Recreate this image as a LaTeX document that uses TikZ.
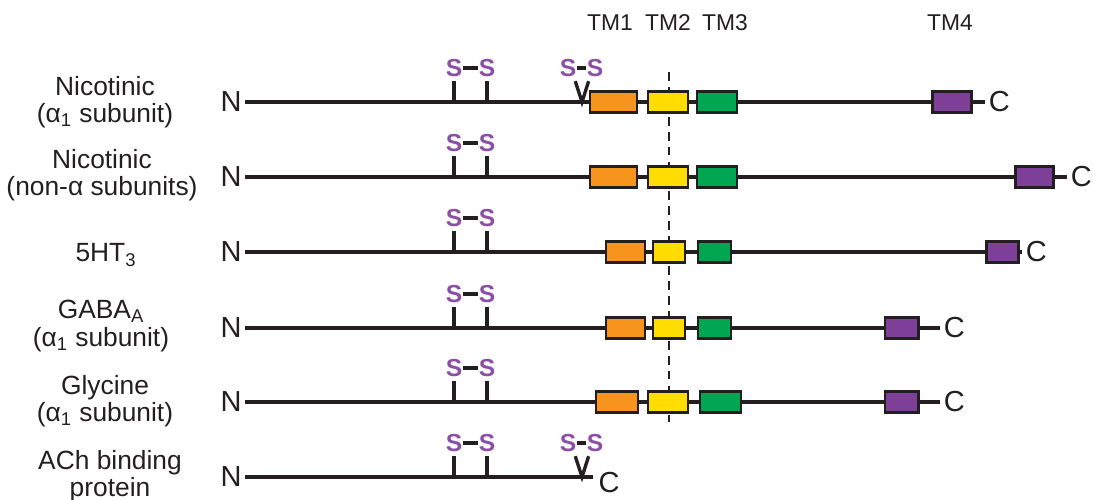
\documentclass[tikz,border=0pt]{standalone}
\usepackage{fontspec}
\setmainfont{Liberation Sans}
\usetikzlibrary{fit,backgrounds}
\definecolor{rink}{HTML}{231F20}
\definecolor{rorange}{HTML}{F7941D}
\definecolor{ryellow}{HTML}{FFDD00}
\definecolor{rgreen}{HTML}{00A651}
\definecolor{rpurple}{HTML}{7E3F98}
\definecolor{rsulf}{HTML}{8C4FA6}
\tikzset{
  tmseg/.style={draw=rink,fill=#1,line width=1.7pt,inner sep=0pt},
  backbone/.style={draw=rink,line width=2.8pt},
  endlab/.style={font=\fontsize{16.5}{18}\selectfont,text=rink,inner sep=2pt},
  sulf/.style={font=\fontsize{14}{16}\selectfont\bfseries,text=rsulf,inner sep=0pt},
  bond/.style={draw=rink,line width=2pt},
  sstem/.style={draw=rink,line width=1.9pt,shorten <=2.5pt},
  rowlab/.style={font=\fontsize{15}{15.5}\selectfont,text=rink,align=center},
  tmlab/.style={font=\fontsize{13}{15}\selectfont,text=rink},
  midline/.style={draw=rink,line width=1.5pt,dash pattern=on 5pt off 3.5pt},
}
\begin{document}
\begin{tikzpicture}[x=0.02cm,y=-0.02cm]
  \useasboundingbox (0,0) rectangle (1093,500);
  \node[tmlab] (tm1) at (610,23) {TM1};
  \node[tmlab] (tm2) at (668,23) {TM2};
  \node[tmlab] (tm3) at (725,23) {TM3};
  \node[tmlab] (tm4) at (950,23) {TM4};
  \coordinate (mtop) at (669,72);
  \coordinate (mbot) at (669,422);

  \node[rowlab] (l1) at (105,102) {Nicotinic\\(α\textsubscript{1} subunit)};
  \node[rowlab] (l2) at (102,175) {Nicotinic\\(non-α subunits)};
  \node[rowlab] (l3) at (106,255) {5HT\textsubscript{3}};
  \node[rowlab] (l4) at (101,326) {GABA\textsubscript{A}\\(α\textsubscript{1} subunit)};
  \node[rowlab] (l5) at (105,401) {Glycine\\(α\textsubscript{1} subunit)};
  \node[rowlab] (l6) at (110,476) {ACh binding\\protein};

  \node[endlab] (n1) at (231,102) {N};
  \node[tmseg=rorange,fit={(590,91.5)(637,112.5)}] (a1) {};
  \node[tmseg=ryellow,fit={(648,91.5)(688,112.5)}] (b1) {};
  \node[tmseg=rgreen,fit={(697,91.5)(737,112.5)}] (g1) {};
  \node[tmseg=rpurple,fit={(932,91.5)(971,112.5)}] (p1) {};
  \node[endlab,anchor=west] (c1) at (985,102) {C};

  \node[endlab] (n2) at (231,177) {N};
  \node[tmseg=rorange,fit={(590,166.5)(637,187.5)}] (a2) {};
  \node[tmseg=ryellow,fit={(648,166.5)(688,187.5)}] (b2) {};
  \node[tmseg=rgreen,fit={(697,166.5)(737,187.5)}] (g2) {};
  \node[tmseg=rpurple,fit={(1015,166.5)(1053,187.5)}] (p2) {};
  \node[endlab,anchor=west] (c2) at (1067,177) {C};

  \node[endlab] (n3) at (231,252) {N};
  \node[tmseg=rorange,fit={(606,241.5)(645,262.5)}] (a3) {};
  \node[tmseg=ryellow,fit={(653,241.5)(685,262.5)}] (b3) {};
  \node[tmseg=rgreen,fit={(698,241.5)(731,262.5)}] (g3) {};
  \node[tmseg=rpurple,fit={(986,241.5)(1018,262.5)}] (p3) {};
  \node[endlab,anchor=west] (c3) at (1022,252) {C};

  \node[endlab] (n4) at (231,328) {N};
  \node[tmseg=rorange,fit={(606,317.5)(645,338.5)}] (a4) {};
  \node[tmseg=ryellow,fit={(653,317.5)(685,338.5)}] (b4) {};
  \node[tmseg=rgreen,fit={(698,317.5)(731,338.5)}] (g4) {};
  \node[tmseg=rpurple,fit={(885,317.5)(918,338.5)}] (p4) {};
  \node[endlab,anchor=west] (c4) at (940,328) {C};

  \node[endlab] (n5) at (231,402) {N};
  \node[tmseg=rorange,fit={(596,391.5)(638,412.5)}] (a5) {};
  \node[tmseg=ryellow,fit={(648,391.5)(688,412.5)}] (b5) {};
  \node[tmseg=rgreen,fit={(700,391.5)(741,412.5)}] (g5) {};
  \node[tmseg=rpurple,fit={(885,391.5)(918,412.5)}] (p5) {};
  \node[endlab,anchor=west] (c5) at (940,402) {C};

  \node[endlab] (n6) at (231,477) {N};
  \coordinate (e6) at (593,477);
  \node[endlab] (c6) at (609,483) {C};

  \foreach \r/\y in {1/68,2/143,3/218,4/294,5/368,6/443}{
    \node[sulf] (sa\r) at (454,\y) {S};
    \node[sulf] (sb\r) at (487,\y) {S};
    \draw[bond] (sa\r) -- (sb\r);
    \draw[sstem] (sa\r.south) -- (sa\r |- n\r);
    \draw[sstem] (sb\r.south) -- (sb\r |- n\r);
  }
  \foreach \r/\y in {1/68,6/443}{
    \node[sulf] (sc\r) at (568,\y) {S};
    \node[sulf] (sd\r) at (595,\y) {S};
    \draw[bond] (sc\r) -- (sd\r);
    \coordinate (v\r) at (582,\y |- n\r);
    \draw[sstem,shorten >=2.5pt] ([xshift=-1.5pt]sc\r.south east) -- (v\r) -- ([xshift=2pt]sd\r.south west);
  }

  \begin{scope}[on background layer]
    \draw[backbone] (n1.east) -- (c1.west);
    \draw[backbone] (n2.east) -- (c2.west);
    \draw[backbone] (n3.east) -- (c3.west);
    \draw[backbone] (n4.east) -- (c4.west);
    \draw[backbone] (n5.east) -- (c5.west);
    \draw[backbone] (n6.east) -- (e6);
    \draw[midline] (mtop) -- (mbot);
  \end{scope}
\end{tikzpicture}
\end{document}
